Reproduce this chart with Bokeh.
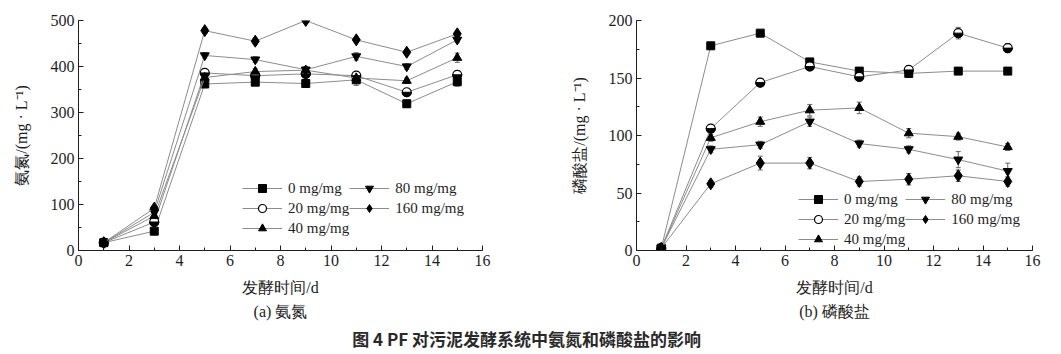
import math
from bokeh.plotting import figure
from bokeh.models import (ColumnDataSource, Legend, LegendItem, Whisker, TeeHead,
                          SingleIntervalTicker, Range1d, Label, Title)
from bokeh.layouts import column, row
from bokeh.embed import file_html
from bokeh.resources import INLINE

# ---------------- data ----------------
days = [1, 3, 5, 7, 9, 11, 13, 15]
doses = ["0 mg/mg", "20 mg/mg", "40 mg/mg", "80 mg/mg", "160 mg/mg"]

# (a) ammonia nitrogen, mg/L
nh4_0 = [17, 42, 362, 366, 363, 371, 319, 367]
nh4_20 = [17, 62, 386, 380, 384, 380, 344, 382]
nh4_40 = [17, 75, 376, 389, 392, 375, 369, 419]
nh4_80 = [17, 83, 424, 415, 393, 422, 400, 458]
nh4_160 = [17, 92, 478, 455, 500, 458, 431, 471]
nh4_err_0 = [3, 4, 8, 6, 6, 12, 8, 10]
nh4_err_20 = [3, 5, 7, 6, 6, 8, 8, 8]
nh4_err_40 = [3, 5, 6, 6, 8, 6, 6, 10]
nh4_err_80 = [3, 4, 6, 6, 6, 8, 6, 6]
nh4_err_160 = [3, 4, 6, 6, 6, 6, 6, 6]

# (b) phosphate, mg/L
po4_0 = [2, 178, 189, 164, 156, 154, 156, 156]
po4_20 = [2, 106, 146, 160, 151, 157, 189, 176]
po4_40 = [2, 98, 112, 122, 124, 102, 99, 90]
po4_80 = [2, 88, 92, 112, 93, 88, 79, 69]
po4_160 = [2, 58, 76, 76, 60, 62, 65, 60]
po4_err_0 = [1, 2, 2, 2, 2, 2, 2, 2]
po4_err_20 = [1, 3, 3, 3, 3, 3, 5, 4]
po4_err_40 = [1, 3, 4, 5, 5, 4, 3, 3]
po4_err_80 = [1, 3, 3, 4, 3, 3, 7, 7]
po4_err_160 = [1, 3, 6, 5, 4, 5, 5, 4]

SERIF = "Liberation Serif"
LINE_C = "#8c8c8c"
INK = "#1e1e1e"

MARKERS = ["square", "halfcircle", "triangle", "inverted_triangle", "diamond"]
SIZES = [8, 9, 9, 9, 12]


def make_panel(ys, errs, ymax, yint, ylabel, subtitle, frame_w, left, right, legend_loc):
    p = figure(output_backend="svg", toolbar_location=None,
               frame_width=frame_w, frame_height=230,
               min_border_left=left, min_border_right=right,
               min_border_top=20, min_border_bottom=74,
               x_range=Range1d(0, 16), y_range=Range1d(0, ymax))
    p.grid.visible = False
    p.outline_line_color = None
    p.background_fill_color = "white"
    p.border_fill_color = "white"

    p.xaxis.ticker = SingleIntervalTicker(interval=2, num_minor_ticks=2)
    p.yaxis.ticker = SingleIntervalTicker(interval=yint, num_minor_ticks=2)
    for ax in (p.xaxis[0], p.yaxis[0]):
        ax.major_tick_in = 5
        ax.major_tick_out = 0
        ax.minor_tick_in = 3
        ax.minor_tick_out = 0
        ax.axis_line_color = INK
        ax.major_tick_line_color = INK
        ax.minor_tick_line_color = INK
        ax.major_label_text_font = SERIF
        ax.major_label_text_font_size = "16px"
        ax.major_label_text_color = INK
        ax.axis_label_text_font = SERIF
        ax.axis_label_text_font_size = "16px"
        ax.axis_label_text_font_style = "normal"
        ax.axis_label_text_color = INK
    p.xaxis.major_label_standoff = 4
    p.yaxis.major_label_standoff = 4
    p.xaxis.axis_label = "发酵时间/d"
    p.xaxis.axis_label_standoff = 10
    p.yaxis.axis_label = ylabel
    p.yaxis.axis_label_standoff = 18

    items = []
    for i, (name, y, e) in enumerate(zip(doses, ys, errs)):
        src = ColumnDataSource(dict(x=days, y=y,
                                    lo=[a - b for a, b in zip(y, e)],
                                    up=[a + b for a, b in zip(y, e)]))
        w = Whisker(source=src, base="x", upper="up", lower="lo",
                    line_color="#666666", line_width=1,
                    upper_head=TeeHead(size=5, line_color="#666666"),
                    lower_head=TeeHead(size=5, line_color="#666666"))
        p.add_layout(w)
        ln = p.line("x", "y", source=src, line_color=LINE_C, line_width=1)
        m = MARKERS[i]
        if m == "halfcircle":
            mk = p.scatter("x", "y", source=src, marker="circle", size=SIZES[i],
                           fill_color="white", line_color="black", line_width=1.2)
            p.wedge("x", "y", source=src, radius=SIZES[i] / 2, radius_units="screen",
                    start_angle=math.pi, end_angle=2 * math.pi,
                    fill_color="black", line_color="black")
        else:
            mk = p.scatter("x", "y", source=src, marker=m, size=SIZES[i],
                           fill_color="black", line_color="black")
        items.append(LegendItem(label=name, renderers=[ln, mk]))

    leg = Legend(items=items, ncols=2, location=legend_loc,
                 label_text_font=SERIF, label_text_font_size="15px",
                 label_text_color=INK,
                 glyph_width=40, glyph_height=20, label_standoff=6,
                 spacing=0, padding=2, margin=0,
                 border_line_color=None, background_fill_alpha=0)
    p.add_layout(leg, "center")

    t = Title(text=subtitle, align="center", text_font=SERIF,
              text_font_size="16px", text_font_style="normal",
              text_color=INK, standoff=4)
    p.add_layout(t, "below")
    return p


p1 = make_panel([nh4_0, nh4_20, nh4_40, nh4_80, nh4_160],
                [nh4_err_0, nh4_err_20, nh4_err_40, nh4_err_80, nh4_err_160],
                500, 100, "氨氮/(mg · L⁻¹)", "(a) 氨氮", 404, 78, 48, (164, 12))
p2 = make_panel([po4_0, po4_20, po4_40, po4_80, po4_160],
                [po4_err_0, po4_err_20, po4_err_40, po4_err_80, po4_err_160],
                200, 50, "磷酸盐/(mg · L⁻¹)", "(b) 磷酸盐", 396, 106, 29, (162, 1))

cap = figure(output_backend="svg", toolbar_location=None, width=1061, height=28,
             x_range=Range1d(0, 1), y_range=Range1d(0, 1),
             min_border=0, outline_line_color=None)
cap.axis.visible = False
cap.grid.visible = False
cap.add_layout(Label(x=530, y=14, x_units="screen", y_units="screen",
                     text="图 4   PF 对污泥发酵系统中氨氮和磷酸盐的影响",
                     text_align="center", text_baseline="middle",
                     text_font="Noto Sans CJK SC", text_font_size="17px",
                     text_font_style="bold", text_color="#2a2a2a"))

layout = column(row(p1, p2, spacing=0), cap, spacing=0)
open("out.html", "w").write(file_html(layout, INLINE))
